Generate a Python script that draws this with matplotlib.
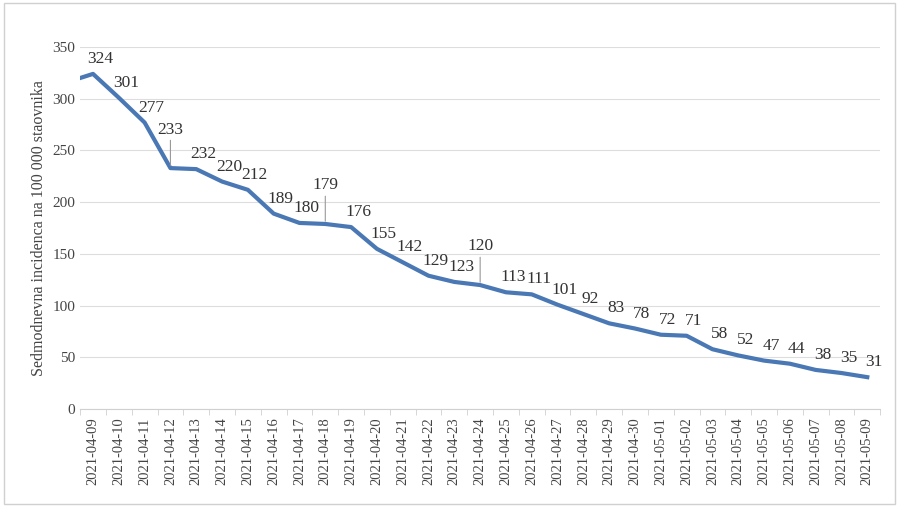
import matplotlib
matplotlib.use('Agg')
import matplotlib.pyplot as plt
from matplotlib.patches import Rectangle
import numpy as np

dates = ['2021-04-09', '2021-04-10', '2021-04-11', '2021-04-12', '2021-04-13', '2021-04-14',
         '2021-04-15', '2021-04-16', '2021-04-17', '2021-04-18', '2021-04-19', '2021-04-20',
         '2021-04-21', '2021-04-22', '2021-04-23', '2021-04-24', '2021-04-25', '2021-04-26',
         '2021-04-27', '2021-04-28', '2021-04-29', '2021-04-30', '2021-05-01', '2021-05-02',
         '2021-05-03', '2021-05-04', '2021-05-05', '2021-05-06', '2021-05-07', '2021-05-08',
         '2021-05-09']
values = [324, 301, 277, 233, 232, 220, 212, 189, 180, 179, 176, 155, 142, 129, 123, 120,
          113, 111, 101, 92, 83, 78, 72, 71, 58, 52, 47, 44, 38, 35, 31]
start_value = 320  # line starts at the left edge, unlabeled

plt.rcParams['font.family'] = 'Liberation Serif'
fig = plt.figure(figsize=(9, 5.22), dpi=100)
fig.patches.append(Rectangle((0.004, 0.035), 0.99, 0.96, transform=fig.transFigure,
                             fill=False, edgecolor='#d0d0d0', lw=1))
ax = fig.add_axes([0.089, 0.216, 0.889, 0.694])

x = np.arange(len(values))
ax.plot(np.r_[-0.5, x], np.r_[start_value, values], color='#4a78b4', lw=3,
        solid_joinstyle='round', zorder=3)

leader = {3: 22, 9: 22, 15: 22}
for i, v in enumerate(values):
    if i in leader:
        ax.annotate(str(v), (i, v), xytext=(0, leader[i]), textcoords='offset points',
                    ha='center', va='bottom', fontsize=12.5, color='#333333',
                    arrowprops=dict(arrowstyle='-', color='#999999', lw=0.8, shrinkA=0, shrinkB=2))
    else:
        ax.annotate(str(v), (i, v), xytext=(5, 5), textcoords='offset points',
                    ha='center', va='bottom', fontsize=12.5, color='#333333')

ax.set_xlim(-0.5, len(values) - 0.5)
ax.set_ylim(0, 350)
ax.set_yticks(range(0, 351, 50))
ax.set_xticks(x)
ax.set_xticklabels(dates, rotation=90, fontsize=10.5, color='#444444')
ax.set_xticks(np.arange(-0.5, len(values), 1), minor=True)
ax.tick_params(axis='x', which='major', length=0, pad=6)
ax.tick_params(axis='x', which='minor', length=4, color='#d0d0d0')
ax.tick_params(axis='y', length=0, labelsize=11, labelcolor='#444444')
ax.grid(axis='y', color='#dddddd', lw=0.8)
ax.set_axisbelow(True)
for s in ['top', 'right', 'left']:
    ax.spines[s].set_visible(False)
ax.spines['bottom'].set_color('#d0d0d0')
ax.set_ylabel('Sedmodnevna incidenca na 100 000 staovnika', fontsize=11.5, color='#444444')

fig.savefig('out.png', dpi=100)
